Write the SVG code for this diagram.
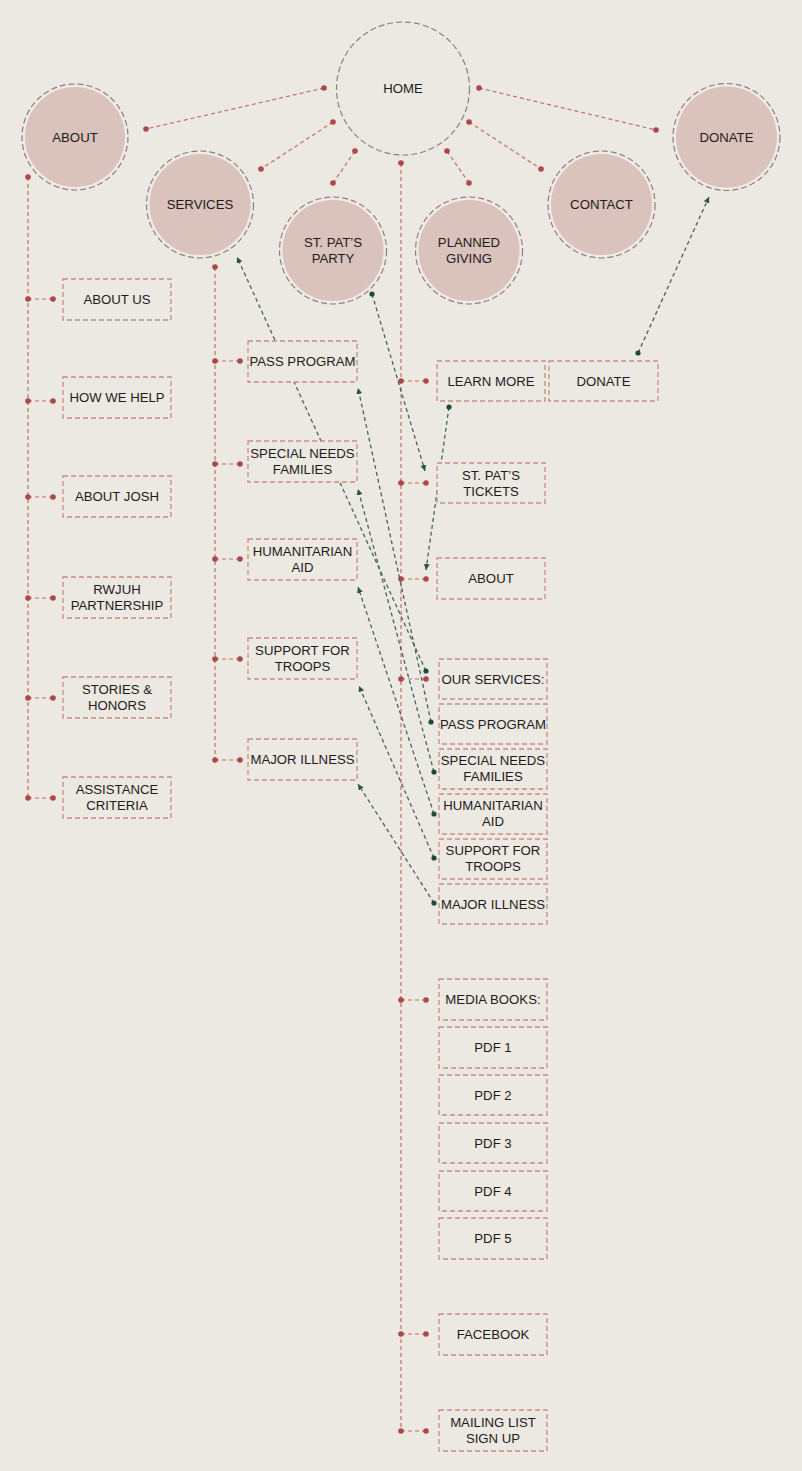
<svg xmlns="http://www.w3.org/2000/svg" width="802" height="1471" viewBox="0 0 802 1471">
<style>
.t{font-family:"Liberation Sans",Arial,sans-serif;font-size:13.2px;fill:#1f1b1a;text-anchor:middle}
.box{fill:#ece9e3;stroke:#c98a85;stroke-width:1.3;stroke-dasharray:5 3}
.ring{fill:#f0e9e6;stroke:#8e7f7a;stroke-width:1.2;stroke-dasharray:6 3}
.fill{fill:#d9c3bc}
.home{fill:#ece9e3;stroke:#8e7f7a;stroke-width:1.2;stroke-dasharray:6 3}
.red{stroke:#bf6f6a;stroke-width:1.2;stroke-dasharray:4 3;fill:none}
.rd{fill:#a9494a}
.grn{stroke:#46665a;stroke-width:1.3;stroke-dasharray:4 3;fill:none;marker-start:url(#gdot);marker-end:url(#garr)}
</style>
<defs>
<marker id="gdot" markerUnits="userSpaceOnUse" markerWidth="6" markerHeight="6" refX="3" refY="3"><circle cx="3" cy="3" r="2.6" fill="#1f4a36"/></marker>
<marker id="garr" markerUnits="userSpaceOnUse" markerWidth="7" markerHeight="7" refX="6" refY="3" orient="auto"><path d="M0,0 L6,3 L0,6 z" fill="#2f5243"/></marker>
</defs>
<rect width="802" height="1471" fill="#ece9e3"/>

<g id="connectors">
<line class="red" x1="324" y1="88" x2="146" y2="129"/>
<line class="red" x1="333" y1="122" x2="261" y2="169"/>
<line class="red" x1="355" y1="151" x2="333" y2="183"/>
<line class="red" x1="447" y1="151" x2="469" y2="183"/>
<line class="red" x1="469" y1="122" x2="541" y2="169"/>
<line class="red" x1="479" y1="88" x2="656" y2="130"/>
<g class="rd">
<circle cx="324" cy="88" r="2.8"/><circle cx="146" cy="129" r="2.8"/>
<circle cx="333" cy="122" r="2.8"/><circle cx="261" cy="169" r="2.8"/>
<circle cx="355" cy="151" r="2.8"/><circle cx="333" cy="183" r="2.8"/>
<circle cx="447" cy="151" r="2.8"/><circle cx="469" cy="183" r="2.8"/>
<circle cx="469" cy="122" r="2.8"/><circle cx="541" cy="169" r="2.8"/>
<circle cx="479" cy="88" r="2.8"/><circle cx="656" cy="130" r="2.8"/>
</g>
<line class="red" x1="28" y1="177" x2="28" y2="798"/>
<line class="red" x1="28" y1="299" x2="53" y2="299"/>
<line class="red" x1="28" y1="401" x2="53" y2="401"/>
<line class="red" x1="28" y1="497" x2="53" y2="497"/>
<line class="red" x1="28" y1="598" x2="53" y2="598"/>
<line class="red" x1="28" y1="698" x2="53" y2="698"/>
<line class="red" x1="28" y1="798" x2="53" y2="798"/>
<g class="rd">
<circle cx="28" cy="177" r="2.8"/>
<circle cx="28" cy="299" r="2.8"/><circle cx="53" cy="299" r="2.8"/>
<circle cx="28" cy="401" r="2.8"/><circle cx="53" cy="401" r="2.8"/>
<circle cx="28" cy="497" r="2.8"/><circle cx="53" cy="497" r="2.8"/>
<circle cx="28" cy="598" r="2.8"/><circle cx="53" cy="598" r="2.8"/>
<circle cx="28" cy="698" r="2.8"/><circle cx="53" cy="698" r="2.8"/>
<circle cx="28" cy="798" r="2.8"/><circle cx="53" cy="798" r="2.8"/>
</g>
<line class="red" x1="215" y1="267" x2="215" y2="760"/>
<line class="red" x1="215" y1="361" x2="240" y2="361"/>
<line class="red" x1="215" y1="464" x2="240" y2="464"/>
<line class="red" x1="215" y1="559" x2="240" y2="559"/>
<line class="red" x1="215" y1="659" x2="240" y2="659"/>
<line class="red" x1="215" y1="760" x2="240" y2="760"/>
<g class="rd">
<circle cx="215" cy="267" r="2.8"/>
<circle cx="215" cy="361" r="2.8"/><circle cx="240" cy="361" r="2.8"/>
<circle cx="215" cy="464" r="2.8"/><circle cx="240" cy="464" r="2.8"/>
<circle cx="215" cy="559" r="2.8"/><circle cx="240" cy="559" r="2.8"/>
<circle cx="215" cy="659" r="2.8"/><circle cx="240" cy="659" r="2.8"/>
<circle cx="215" cy="760" r="2.8"/><circle cx="240" cy="760" r="2.8"/>
</g>
<line class="red" x1="401" y1="163" x2="401" y2="1431"/>
<line class="red" x1="401" y1="381" x2="426" y2="381"/>
<line class="red" x1="401" y1="483" x2="426" y2="483"/>
<line class="red" x1="401" y1="579" x2="426" y2="579"/>
<line class="red" x1="401" y1="679" x2="426" y2="679"/>
<line class="red" x1="401" y1="1000" x2="426" y2="1000"/>
<line class="red" x1="401" y1="1334" x2="426" y2="1334"/>
<line class="red" x1="401" y1="1431" x2="426" y2="1431"/>
<g class="rd">
<circle cx="401" cy="163" r="2.8"/>
<circle cx="401" cy="381" r="2.8"/><circle cx="426" cy="381" r="2.8"/>
<circle cx="401" cy="483" r="2.8"/><circle cx="426" cy="483" r="2.8"/>
<circle cx="401" cy="579" r="2.8"/><circle cx="426" cy="579" r="2.8"/>
<circle cx="401" cy="679" r="2.8"/><circle cx="426" cy="679" r="2.8"/>
<circle cx="401" cy="1000" r="2.8"/><circle cx="426" cy="1000" r="2.8"/>
<circle cx="401" cy="1334" r="2.8"/><circle cx="426" cy="1334" r="2.8"/>
<circle cx="401" cy="1431" r="2.8"/><circle cx="426" cy="1431" r="2.8"/>
</g>
<line class="grn" x1="372" y1="294" x2="425" y2="471"/>
<line class="grn" x1="449" y1="407" x2="426" y2="570"/>
<line class="grn" x1="638" y1="353" x2="709" y2="197"/>
<line class="grn" x1="426" y1="671" x2="237" y2="257"/>
<line class="grn" x1="431" y1="722" x2="358" y2="388"/>
<line class="grn" x1="434" y1="772" x2="358" y2="489"/>
<line class="grn" x1="434" y1="814" x2="358" y2="587"/>
<line class="grn" x1="434" y1="858" x2="359" y2="686"/>
<line class="grn" x1="434" y1="903" x2="358" y2="784"/>
</g>

<g id="home"><circle class="home" cx="403" cy="88.5" r="66.5"/><text class="t" x="403" y="93">HOME</text></g>
<g id="about"><circle class="ring" cx="75" cy="137" r="53"/><circle class="fill" cx="75" cy="137" r="50"/><text class="t" x="75" y="142">ABOUT</text></g>
<g id="services"><circle class="ring" cx="200" cy="204.5" r="53.5"/><circle class="fill" cx="200" cy="204.5" r="50.5"/><text class="t" x="200" y="209">SERVICES</text></g>
<g id="stpats"><circle class="ring" cx="333" cy="250.5" r="53.5"/><circle class="fill" cx="333" cy="250.5" r="50.5"/><text class="t" x="333" y="247">ST. PAT’S</text><text class="t" x="333" y="263">PARTY</text></g>
<g id="planned"><circle class="ring" cx="469" cy="250.5" r="53.5"/><circle class="fill" cx="469" cy="250.5" r="50.5"/><text class="t" x="469" y="247">PLANNED</text><text class="t" x="469" y="263">GIVING</text></g>
<g id="contact"><circle class="ring" cx="601.5" cy="204.5" r="53.5"/><circle class="fill" cx="601.5" cy="204.5" r="50.5"/><text class="t" x="601.5" y="209">CONTACT</text></g>
<g id="donate"><circle class="ring" cx="726.5" cy="137" r="53.5"/><circle class="fill" cx="726.5" cy="137" r="50.5"/><text class="t" x="726.5" y="142">DONATE</text></g>

<g id="about-us"><rect class="box" x="63" y="279" width="108" height="41"/><text class="t" x="117" y="304">ABOUT US</text></g>
<g id="how-we-help"><rect class="box" x="63" y="377" width="108" height="41"/><text class="t" x="117" y="402">HOW WE HELP</text></g>
<g id="about-josh"><rect class="box" x="63" y="476" width="108" height="41"/><text class="t" x="117" y="501">ABOUT JOSH</text></g>
<g id="rwjuh"><rect class="box" x="63" y="577" width="108" height="41"/><text class="t" x="117" y="594">RWJUH</text><text class="t" x="117" y="610">PARTNERSHIP</text></g>
<g id="stories"><rect class="box" x="63" y="677" width="108" height="41"/><text class="t" x="117" y="694">STORIES &amp;</text><text class="t" x="117" y="710">HONORS</text></g>
<g id="assistance"><rect class="box" x="63" y="777" width="108" height="41"/><text class="t" x="117" y="794">ASSISTANCE</text><text class="t" x="117" y="810">CRITERIA</text></g>

<g id="s-pass"><rect class="box" x="248" y="341" width="109" height="41"/><text class="t" x="302.5" y="366">PASS PROGRAM</text></g>
<g id="s-special"><rect class="box" x="248" y="441" width="109" height="41"/><text class="t" x="302.5" y="458">SPECIAL NEEDS</text><text class="t" x="302.5" y="474">FAMILIES</text></g>
<g id="s-human"><rect class="box" x="248" y="539" width="109" height="41"/><text class="t" x="302.5" y="556">HUMANITARIAN</text><text class="t" x="302.5" y="572">AID</text></g>
<g id="s-support"><rect class="box" x="248" y="638" width="109" height="41"/><text class="t" x="302.5" y="655">SUPPORT FOR</text><text class="t" x="302.5" y="671">TROOPS</text></g>
<g id="s-major"><rect class="box" x="248" y="739" width="109" height="41"/><text class="t" x="302.5" y="764">MAJOR ILLNESS</text></g>

<g id="learn-more"><rect class="box" x="437" y="361" width="108" height="40"/><text class="t" x="491" y="385.5">LEARN MORE</text></g>
<g id="donate-box"><rect class="box" x="549" y="361" width="109" height="40"/><text class="t" x="603.5" y="385.5">DONATE</text></g>
<g id="tickets"><rect class="box" x="437" y="463" width="108" height="40"/><text class="t" x="491" y="480">ST. PAT’S</text><text class="t" x="491" y="496">TICKETS</text></g>
<g id="h-about"><rect class="box" x="437" y="558" width="108" height="41"/><text class="t" x="491" y="583">ABOUT</text></g>

<g id="our-services"><rect class="box" x="439" y="659" width="108" height="40"/><text class="t" x="493" y="683.5">OUR SERVICES:</text></g>
<g id="o-pass"><rect class="box" x="439" y="704" width="108" height="40"/><text class="t" x="493" y="728.5">PASS PROGRAM</text></g>
<g id="o-special"><rect class="box" x="439" y="749" width="108" height="40"/><text class="t" x="493" y="765">SPECIAL NEEDS</text><text class="t" x="493" y="781">FAMILIES</text></g>
<g id="o-human"><rect class="box" x="439" y="794" width="108" height="40"/><text class="t" x="493" y="810">HUMANITARIAN</text><text class="t" x="493" y="826">AID</text></g>
<g id="o-support"><rect class="box" x="439" y="839" width="108" height="40"/><text class="t" x="493" y="855">SUPPORT FOR</text><text class="t" x="493" y="871">TROOPS</text></g>
<g id="o-major"><rect class="box" x="439" y="884" width="108" height="40"/><text class="t" x="493" y="908.5">MAJOR ILLNESS</text></g>

<g id="media"><rect class="box" x="439" y="979" width="108" height="41"/><text class="t" x="493" y="1004">MEDIA BOOKS:</text></g>
<g id="pdf1"><rect class="box" x="439" y="1027" width="108" height="41"/><text class="t" x="493" y="1052">PDF 1</text></g>
<g id="pdf2"><rect class="box" x="439" y="1075" width="108" height="40"/><text class="t" x="493" y="1099.5">PDF 2</text></g>
<g id="pdf3"><rect class="box" x="439" y="1123" width="108" height="40"/><text class="t" x="493" y="1147.5">PDF 3</text></g>
<g id="pdf4"><rect class="box" x="439" y="1171" width="108" height="40"/><text class="t" x="493" y="1195.5">PDF 4</text></g>
<g id="pdf5"><rect class="box" x="439" y="1218" width="108" height="41"/><text class="t" x="493" y="1243">PDF 5</text></g>
<g id="facebook"><rect class="box" x="439" y="1314" width="108" height="41"/><text class="t" x="493" y="1339">FACEBOOK</text></g>
<g id="mailing"><rect class="box" x="439" y="1410" width="108" height="41"/><text class="t" x="493" y="1427">MAILING LIST</text><text class="t" x="493" y="1443">SIGN UP</text></g>
</svg>
